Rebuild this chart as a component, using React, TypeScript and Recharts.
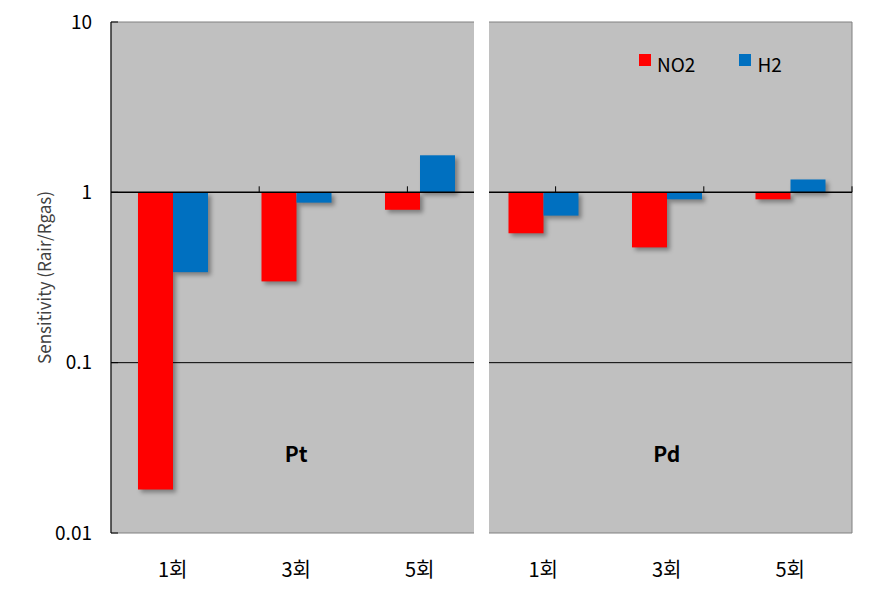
import React from 'react';
import {
  BarChart,
  Bar,
  XAxis,
  YAxis,
  CartesianGrid,
  ReferenceLine,
  ReferenceArea,
  Legend,
} from 'recharts';

const categories = ['1회', '3회', '5회'];
const panels = ['Pt', 'Pd'];
const ptNO2 = [0.018, 0.3, 0.79];
const ptH2 = [0.34, 0.87, 1.65];
const pdNO2 = [0.575, 0.475, 0.91];
const pdH2 = [0.73, 0.91, 1.19];
const yTicks = [0.01, 0.1, 1, 10];
const baseline = 1;
const boundaryTicks = [1, 2, 3, 4, 5, 6];

const series = [
  { key: 'no2', name: 'NO2', color: '#ff0000' },
  { key: 'h2', name: 'H2', color: '#0070c0' },
];

const panelValues: Record<string, { no2: number[]; h2: number[] }> = {
  Pt: { no2: ptNO2, h2: ptH2 },
  Pd: { no2: pdNO2, h2: pdH2 },
};

const data = panels.flatMap((p) =>
  categories.map((c, ci) => ({
    key: `${p}-${c}`,
    label: c,
    no2: panelValues[p].no2[ci],
    h2: panelValues[p].h2[ci],
  }))
);

const labelOf = (k: string) => {
  const row = data.find((d) => d.key === k);
  return row ? row.label : k;
};

const FONT = "'Noto Sans CJK KR', 'Noto Sans', sans-serif";

const ShadowBar = (props: any) => {
  const { x, y, width, height, fill } = props;
  if (width == null || height == null) return null;
  const h = Math.abs(height);
  const yy = height < 0 ? y + height : y;
  return (
    <rect
      x={x}
      y={yy}
      width={width}
      height={h}
      fill={fill}
      style={{ filter: 'drop-shadow(3px 3px 2px rgba(0,0,0,0.35))' }}
    />
  );
};

const LegendContent = () => (
  <div style={{ display: 'flex', fontFamily: FONT, fontSize: 19, lineHeight: '18px', color: '#000' }}>
    {series.map((s, i) => (
      <div key={s.key} style={{ display: 'flex', alignItems: 'flex-start', marginRight: i === 0 ? 44 : 0 }}>
        <div style={{ width: 12, height: 12, background: s.color, marginTop: -1, marginRight: 6 }} />
        <span>{s.name}</span>
      </div>
    ))}
  </div>
);

export default function App() {
  return (
    <div style={{ position: 'absolute', left: 0, top: 0, width: 872, height: 595, background: '#fff' }}>
      <BarChart
        width={872}
        height={595}
        data={data}
        margin={{ top: 22, right: 20, left: 0, bottom: 0 }}
        barGap={0}
        barSize={35}
      >
        <CartesianGrid
          fill="#c0c0c0"
          vertical={false}
          horizontal={true}
          horizontalValues={[0.1]}
          stroke="#000"
          strokeOpacity={1}
        />
        <XAxis
          dataKey="key"
          tickFormatter={labelOf}
          interval={0}
          axisLine={false}
          tickLine={false}
          tickSize={0}
          tickMargin={30}
          height={62}
          tick={{ fill: '#000', fontSize: 20, fontFamily: FONT }}
        />
        <XAxis xAxisId="grid" type="number" domain={[0, 6]} hide />
        <YAxis
          scale="log"
          type="number"
          domain={[0.01, 10]}
          ticks={yTicks}
          allowDataOverflow
          width={111}
          tickFormatter={(v: number) => String(v)}
          axisLine={{ stroke: '#000' }}
          tickLine={{ stroke: '#000' }}
          tickSize={-7}
          tickMargin={26}
          tick={{ fill: '#000', fontSize: 19, fontFamily: FONT }}
          label={{
            value: 'Sensitivity (Rair/Rgas)',
            angle: -90,
            position: 'insideLeft',
            offset: 45,
            style: { textAnchor: 'middle', fill: '#404040', fontSize: 17, fontFamily: FONT },
          }}
        />
        {panels.map((p) => (
          <ReferenceArea
            key={p}
            x1={`${p}-${categories[0]}`}
            x2={`${p}-${categories[categories.length - 1]}`}
            y1={0.01}
            y2={10}
            fill="none"
            stroke="#808080"
            strokeWidth={1}
            label={{
              value: p,
              position: 'insideBottom',
              offset: 71,
              style: { fill: '#000', fontSize: 21, fontWeight: 'bold', fontFamily: FONT },
            }}
          />
        ))}
        {series.map((s) => (
          <Bar
            key={s.key}
            name={s.name}
            dataKey={(d: any) => [Math.min(baseline, d[s.key]), Math.max(baseline, d[s.key])]}
            fill={s.color}
            isAnimationActive={false}
            shape={ShadowBar}
          />
        ))}
        <ReferenceLine y={baseline} stroke="#000" strokeWidth={1.5} />
        {boundaryTicks.map((b) => (
          <ReferenceLine
            key={b}
            xAxisId="grid"
            stroke="#000"
            strokeWidth={1}
            segment={[
              { x: b, y: baseline },
              { x: b, y: 1.085 },
            ]}
          />
        ))}
        <Legend
          layout="horizontal"
          verticalAlign="middle"
          align="center"
          content={LegendContent}
          wrapperStyle={{ position: 'absolute', left: 639, top: 55, width: 'auto' }}
        />
      </BarChart>
      <div
        style={{
          position: 'absolute',
          left: 474,
          top: 15,
          width: 15,
          height: 525,
          background: '#fff',
        }}
      />
    </div>
  );
}
